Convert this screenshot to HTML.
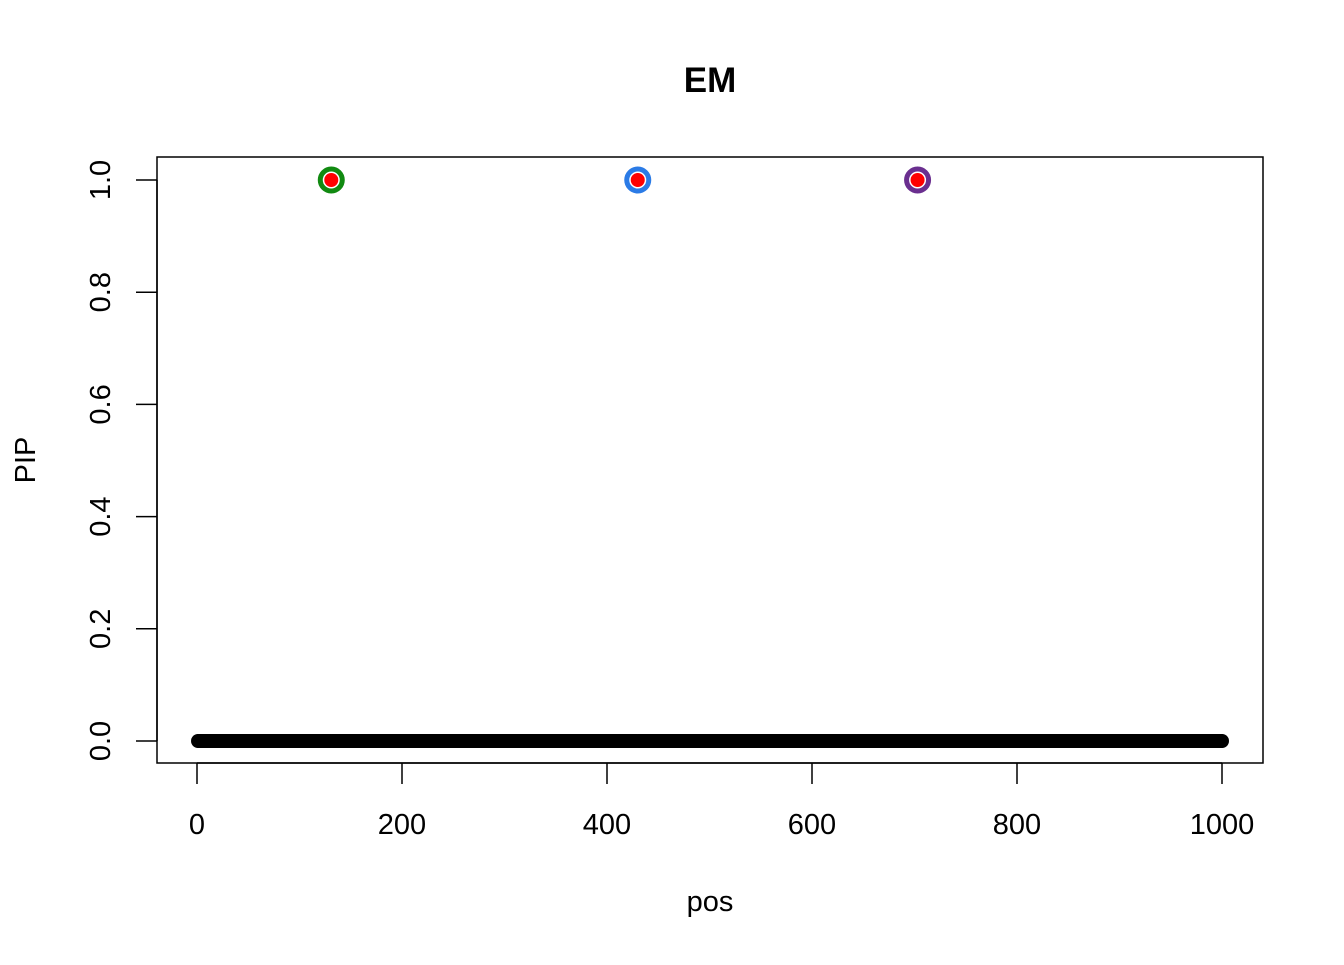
<!DOCTYPE html>
<html><head><meta charset="utf-8"><style>
body{margin:0;background:#fff}
svg text{font-family:"Liberation Sans",Arial,sans-serif}
</style></head><body>
<svg id="chart" width="1344" height="960" xmlns="http://www.w3.org/2000/svg">
<text x="710" y="92" font-size="35" font-weight="bold" text-anchor="middle">EM</text>
<rect x="157" y="157" width="1106" height="606" fill="none" stroke="#000" stroke-width="1.5"/>
<g id="xaxis"></g>
<g id="yaxis"></g>
<text x="710" y="911" font-size="29" text-anchor="middle">pos</text>
<text x="35" y="460" font-size="29" text-anchor="middle" transform="rotate(-90 35 460)">PIP</text>
<g id="points"></g>
</svg>
<script>
const xTicks=[0,200,400,600,800,1000];
const yTicks=[0,0.2,0.4,0.6,0.8,1.0];
const yTickLabels=["0.0","0.2","0.4","0.6","0.8","1.0"];
const nPos=1000;
const csPos=[131,430,703];
const csPip=[1,1,1];
const csColors=["#118a11","#2b7be6","#6a2f8f"];
const X=v=>197+v*1.025;
const Y=v=>741-v*561;
const NS="http://www.w3.org/2000/svg";
function mk(tag,attrs,parent){const e=document.createElementNS(NS,tag);for(const k in attrs)e.setAttribute(k,attrs[k]);parent.appendChild(e);return e;}
const xa=document.getElementById('xaxis');
mk('line',{x1:X(xTicks[0]),x2:X(xTicks[xTicks.length-1]),y1:763,y2:763,stroke:'#000','stroke-width':1.5},xa);
xTicks.forEach(t=>{
 const l=mk('line',{x1:X(t),x2:X(t),y1:763,y2:784,stroke:'#000','stroke-width':1.5},xa);
 
 
 const tx=mk('text',{x:X(t),y:834,'font-size':29,'text-anchor':'middle'},xa);tx.textContent=t;
 
 
});
const ya=document.getElementById('yaxis');
mk('line',{x1:157,x2:157,y1:Y(yTicks[0]),y2:Y(yTicks[yTicks.length-1]),stroke:'#000','stroke-width':1.5},ya);
yTicks.forEach((t,i)=>{
 const l=mk('line',{x1:136,x2:157,y1:Y(t),y2:Y(t),stroke:'#000','stroke-width':1.5},ya);
 
 
 const tx=mk('text',{x:110,y:Y(t),'font-size':29,'text-anchor':'middle',transform:`rotate(-90 110 ${Y(t)})`},ya);tx.textContent=yTickLabels[i];
 
 
});
const pg=document.getElementById('points');
for(let p=1;p<=nPos;p++){
 const pip=csPos.includes(p)?csPip[csPos.indexOf(p)]:0;
 const c=mk('circle',{cx:X(p),cy:Y(pip),r:7,fill:'#000'},pg);
 
 
}
csPos.forEach((p,i)=>{
 const o=mk('circle',{cx:X(p),cy:Y(csPip[i]),r:11,fill:'#fff',stroke:csColors[i],'stroke-width':5},pg);
 
 
 const c=mk('circle',{cx:X(p),cy:Y(csPip[i]),r:7,fill:'#f00'},pg);
 
 
});
</script>
</body></html>
